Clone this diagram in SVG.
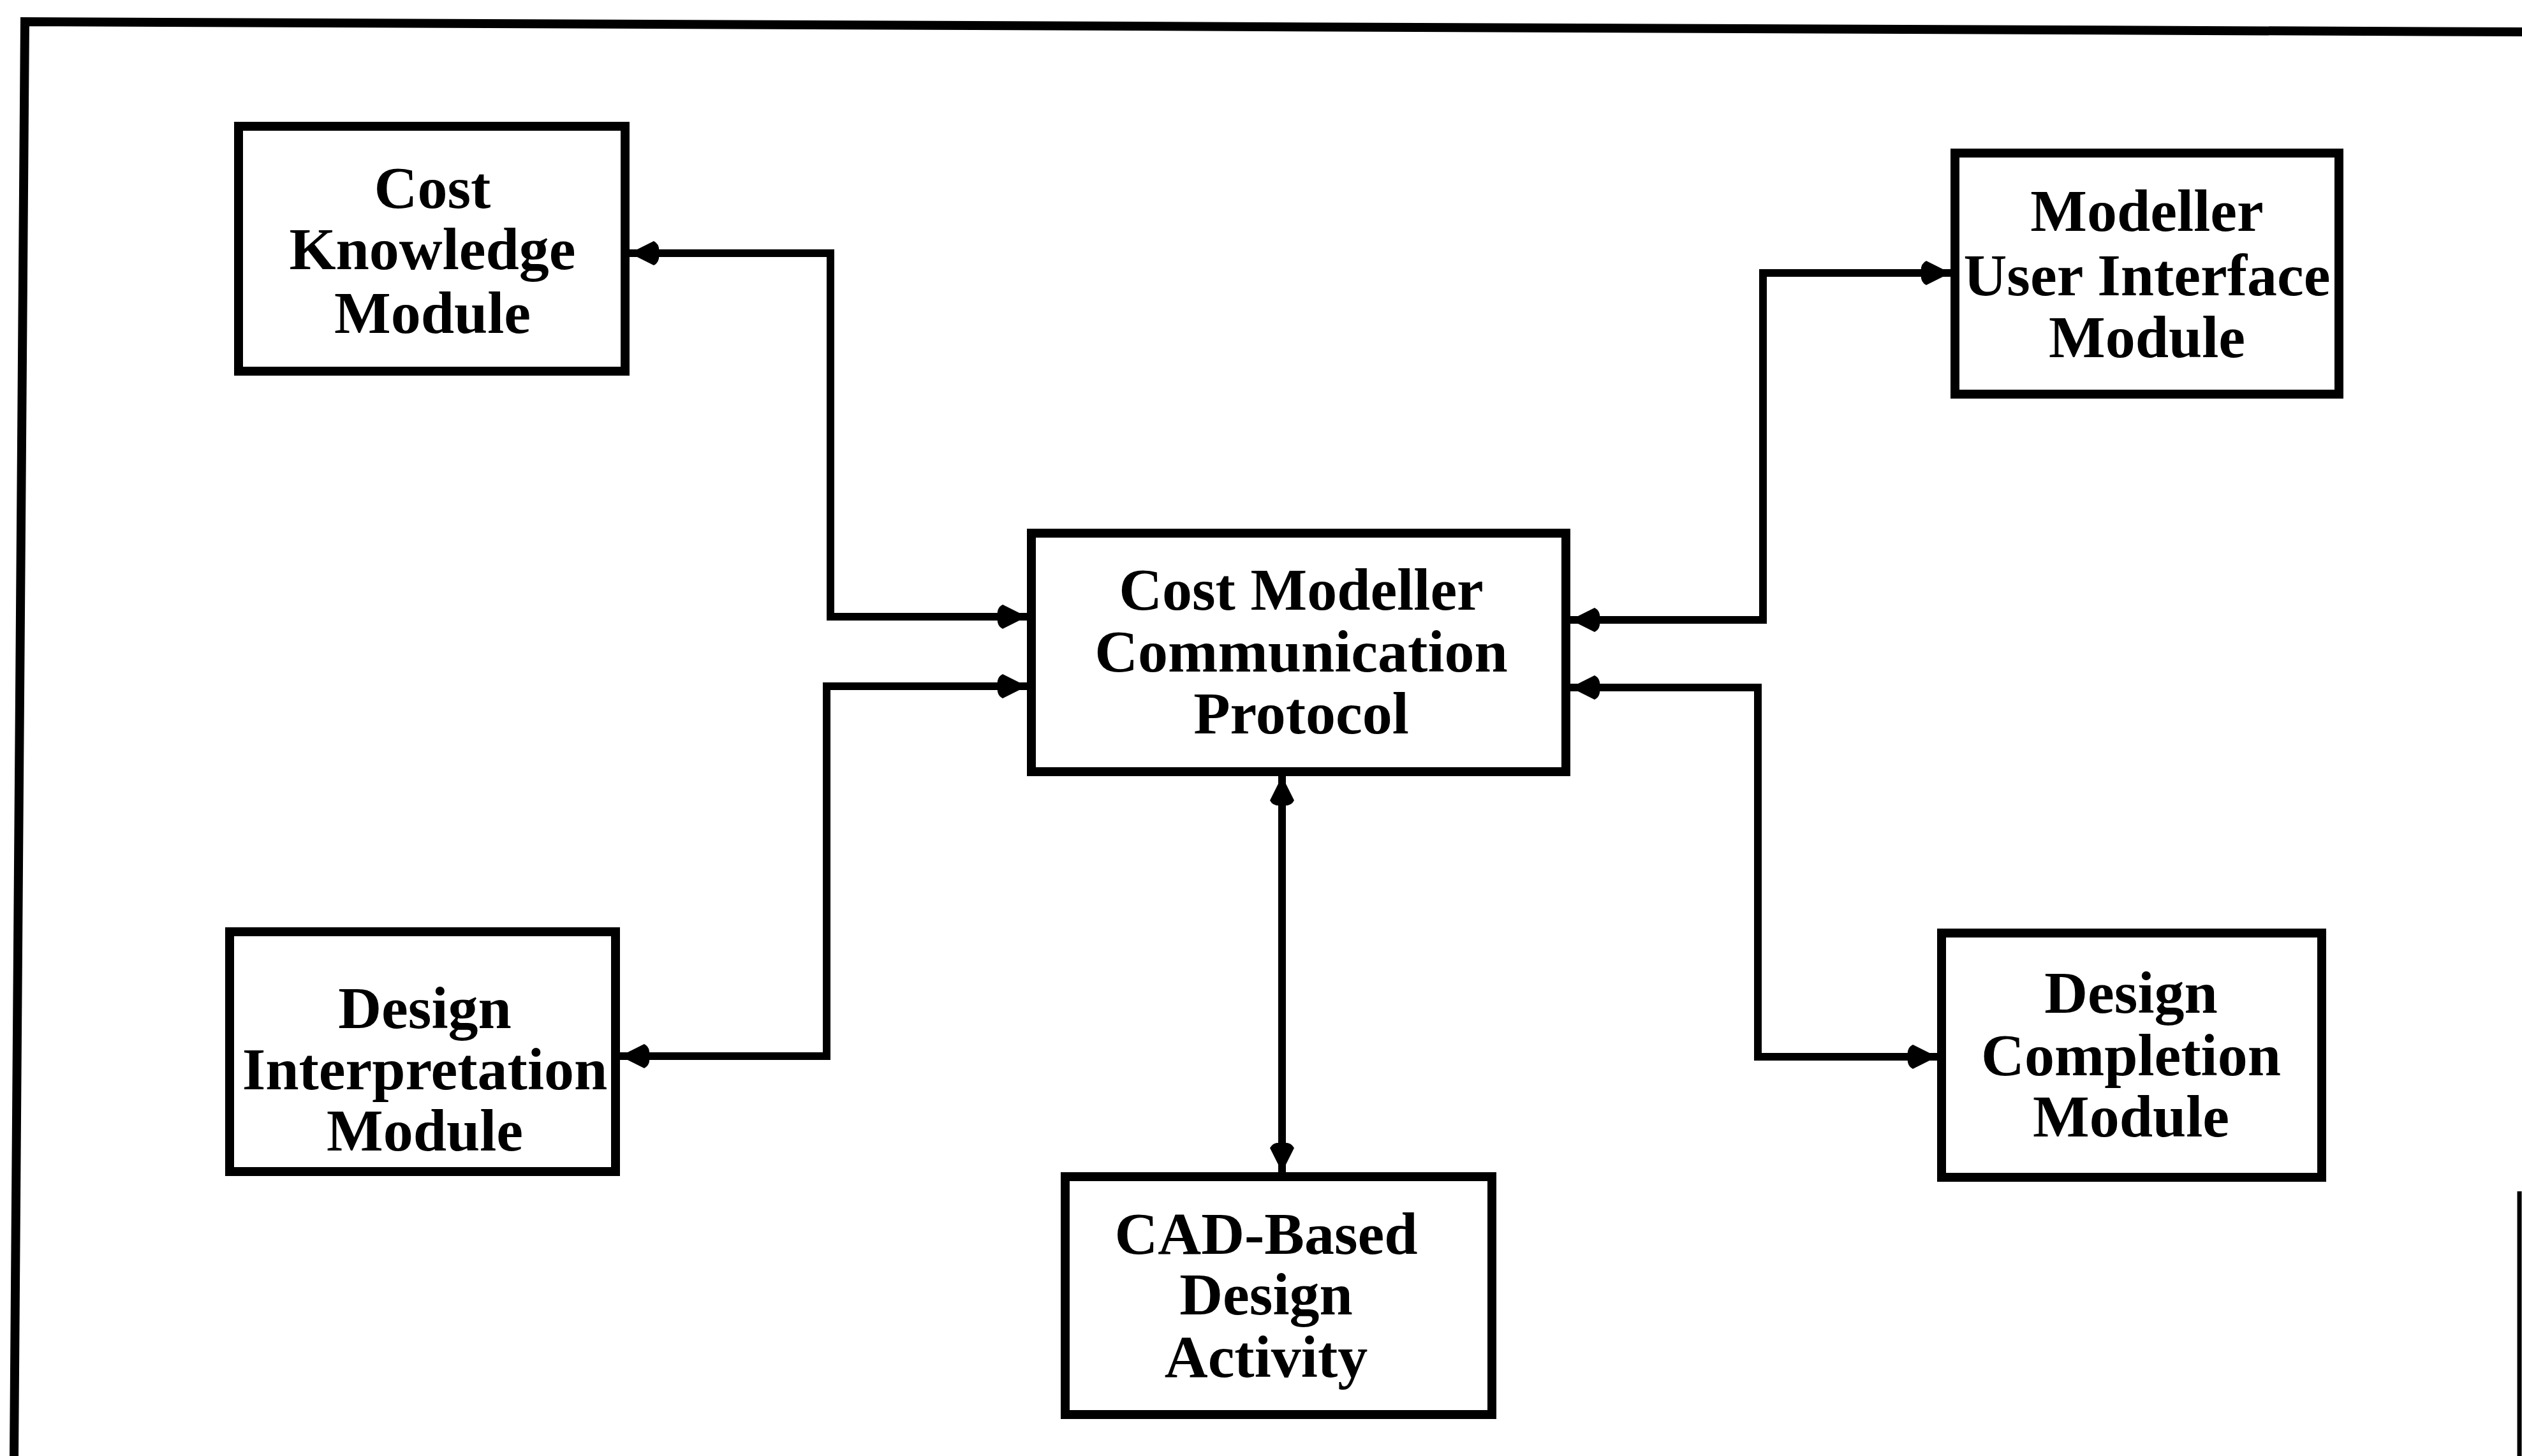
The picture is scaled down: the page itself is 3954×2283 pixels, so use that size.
<svg xmlns="http://www.w3.org/2000/svg" width="3954" height="2283" viewBox="0 0 3954 2283">
<style>
.bg{fill:#fff}
.box{fill:#fff;stroke:#000;stroke-width:14;stroke-linejoin:miter}
.frame{fill:none;stroke:#000;stroke-width:14}
.conn{fill:none;stroke:#000;stroke-width:12;stroke-linejoin:miter}
.lbl{font-family:"Liberation Serif","Times New Roman",serif;font-weight:bold;font-size:94px;fill:#000;text-anchor:middle}
</style>
<defs>
<marker id="ah" viewBox="0 0 50 40" refX="50" refY="20" markerWidth="50" markerHeight="40" markerUnits="userSpaceOnUse" orient="auto-start-reverse">
<path d="M50,20 L12,1 Q2,6 4,20 Q2,34 12,39 Z" fill="#000"/>
</marker>
</defs>
<rect class="bg" x="0" y="0" width="3954" height="2283"/>
<g id="frame">
<path class="frame" d="M22,2283 L39,34 L3954,50"/>
<path d="M3950,1868 V2283" stroke="#000" stroke-width="7" fill="none"/>
</g>
<g id="connectors">
<path class="conn" d="M987,397 H1302 V967 H1610" marker-start="url(#ah)" marker-end="url(#ah)"/>
<path class="conn" d="M1610,1076 H1296 V1656 H972" marker-start="url(#ah)" marker-end="url(#ah)"/>
<path class="conn" d="M2462,972 H2764 V428 H3058" marker-start="url(#ah)" marker-end="url(#ah)"/>
<path class="conn" d="M2462,1078 H2756 V1657 H3037" marker-start="url(#ah)" marker-end="url(#ah)"/>
<path class="conn" d="M2010,1217 V1838" marker-start="url(#ah)" marker-end="url(#ah)"/>
</g>
<g id="cost-knowledge">
<rect class="box" x="374" y="198" width="606" height="384"/>
<text class="lbl" x="678" y="326">Cost</text>
<text class="lbl" x="678" y="422">Knowledge</text>
<text class="lbl" x="678" y="522">Module</text>
</g>
<g id="modeller-ui">
<rect class="box" x="3065" y="240" width="602" height="378"/>
<text class="lbl" x="3366" y="362">Modeller</text>
<text class="lbl" x="3366" y="463">User Interface</text>
<text class="lbl" x="3366" y="560">Module</text>
</g>
<g id="comm-protocol">
<rect class="box" x="1617" y="836" width="838" height="374"/>
<text class="lbl" x="2040" y="956">Cost Modeller</text>
<text class="lbl" x="2040" y="1053">Communication</text>
<text class="lbl" x="2040" y="1150">Protocol</text>
</g>
<g id="design-interpretation">
<rect class="box" x="360" y="1461" width="605" height="376"/>
<text class="lbl" x="666" y="1612">Design</text>
<text class="lbl" x="666" y="1708">Interpretation</text>
<text class="lbl" x="666" y="1804">Module</text>
</g>
<g id="design-completion">
<rect class="box" x="3044" y="1463" width="596" height="383"/>
<text class="lbl" x="3341" y="1588">Design</text>
<text class="lbl" x="3341" y="1686">Completion</text>
<text class="lbl" x="3341" y="1782">Module</text>
</g>
<g id="cad-activity">
<rect class="box" x="1670" y="1845" width="669" height="373"/>
<text class="lbl" x="1985" y="1966">CAD-Based</text>
<text class="lbl" x="1985" y="2061">Design</text>
<text class="lbl" x="1985" y="2159">Activity</text>
</g>
</svg>
